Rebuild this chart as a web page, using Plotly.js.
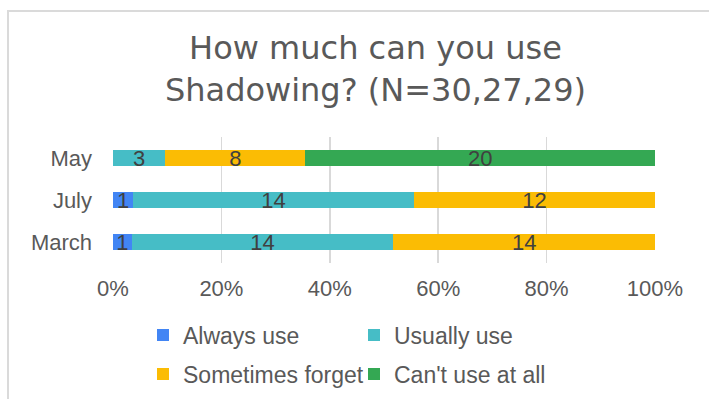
<!DOCTYPE html>
<html>
<head>
<meta charset="utf-8">
<script src="https://cdn.plot.ly/plotly-3.0.1.min.js"></script>
<style>
  html, body { margin: 0; padding: 0; background: #fff; }
  #wrap { position: relative; width: 709px; height: 399px; overflow: hidden; }
  #chart { position: absolute; left: 0; top: 0; width: 709px; height: 399px; }
  #frame { position: absolute; left: 7px; top: 10px; width: 760px; height: 420px;
           border-left: 2px solid #dadada; border-top: 2px solid #dadada; pointer-events: none; }
</style>
</head>
<body>
<div id="wrap">
  <div id="chart"></div>
  <div id="frame"></div>
</div>
<script>
const months = ['March', 'July', 'May'];
const seriesNames = ['Always use', 'Usually use', 'Sometimes forget', "Can't use at all"];
const alwaysUse = [1, 1, 0];
const usuallyUse = [14, 14, 3];
const sometimesForget = [14, 12, 8];
const cantUse = [0, 0, 20];
const colors = ['#4285F4', '#46BDC6', '#FBBC04', '#34A853'];
const tickVals = [0, 20, 40, 60, 80, 100];

const allSeries = [alwaysUse, usuallyUse, sometimesForget, cantUse];
const legendIds = ['legend', 'legend', 'legend2', 'legend2'];

const traces = allSeries.map((vals, i) => ({
  type: 'bar',
  orientation: 'h',
  name: seriesNames[i],
  y: months,
  x: vals,
  text: vals.map(v => v ? String(v) : ''),
  textposition: 'inside',
  insidetextanchor: 'middle',
  textangle: 0,
  constraintext: 'none',
  cliponaxis: false,
  textfont: { family: 'Liberation Sans, Arial, sans-serif', size: 22, color: '#404040' },
  marker: { color: colors[i], line: { width: 0 } },
  legend: legendIds[i],
  hoverinfo: 'skip'
}));

const legendCommon = {
  orientation: 'h',
  xref: 'container', yref: 'container',
  xanchor: 'left', yanchor: 'middle',
  font: { family: 'Liberation Sans, Arial, sans-serif', size: 23, color: '#595959' },
  bgcolor: 'rgba(0,0,0,0)',
  entrywidth: 166,
  entrywidthmode: 'pixels',
  itemwidth: 30,
  traceorder: 'normal'
};

const layout = {
  width: 709,
  height: 399,
  margin: { l: 113, r: 54, t: 137, b: 136 },
  paper_bgcolor: '#ffffff',
  plot_bgcolor: '#ffffff',
  barmode: 'stack',
  barnorm: 'percent',
  bargap: 0.61,
  showlegend: true,
  uniformtext: { mode: 'show', minsize: 22 },
  title: {
    text: 'How much can you use<br>Shadowing? (N=30,27,29)',
    xref: 'container', yref: 'container',
    x: 0.5296, xanchor: 'center',
    y: 1 - 59 / 399, yanchor: 'middle',
    font: { family: 'DejaVu Sans, Liberation Sans, Arial, sans-serif', size: 32, color: '#595959' }
  },
  xaxis: {
    range: [0, 100],
    tickvals: tickVals,
    ticktext: tickVals.map(v => v + '%'),
    showgrid: true,
    gridcolor: '#d9d9d9',
    gridwidth: 1.5,
    zeroline: false,
    showline: false,
    ticks: '',
    ticklabelstandoff: 10,
    tickfont: { family: 'Liberation Sans, Arial, sans-serif', size: 22, color: '#595959' },
    fixedrange: true
  },
  yaxis: {
    type: 'category',
    categoryorder: 'array',
    categoryarray: months,
    showgrid: false,
    zeroline: false,
    showline: false,
    ticks: '',
    ticklabelstandoff: 20,
    tickfont: { family: 'Liberation Sans, Arial, sans-serif', size: 22, color: '#595959' },
    fixedrange: true
  },
  legend: Object.assign({}, legendCommon, { x: 143 / 709, y: 1 - 335 / 399 }),
  legend2: Object.assign({}, legendCommon, { x: 143 / 709, y: 1 - 374 / 399 })
};

Plotly.newPlot('chart', traces, layout, { displayModeBar: false, staticPlot: true });
</script>
</body>
</html>
